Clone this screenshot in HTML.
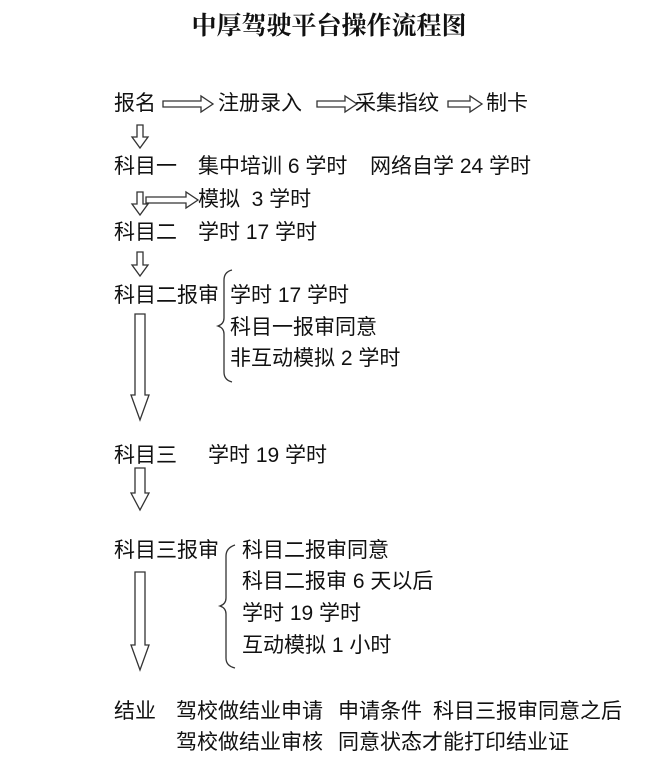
<!DOCTYPE html>
<html><head><meta charset="utf-8"><style>
body{margin:0;width:645px;height:768px;background:#fff;position:relative;overflow:hidden;font-family:"Liberation Sans","Noto Sans CJK SC",sans-serif;color:#111}
.t{position:absolute;font-size:21px;line-height:24px;white-space:nowrap}
h1{position:absolute;left:0;width:658px;top:6px;margin:0;text-align:center;font:bold 25px "Liberation Serif","Noto Serif CJK SC",serif}
svg{position:absolute;left:0;top:0}
</style></head><body>
<h1>中厚驾驶平台操作流程图</h1>
<svg width="645" height="768" fill="#fff" stroke="#333" stroke-width="1.3">
<polygon points="163,101 201,101 201,96 213,104 201,112 201,107 163,107"/>
<polygon points="317,101 345,101 345,96 357,104 345,112 345,107 317,107"/>
<polygon points="448,101 470,101 470,96 482,104 470,112 470,107 448,107"/>
<polygon points="137,125 143,125 143,137 148,137 140,148 132,137 137,137"/>
<polygon points="137,192 143,192 143,204 148,204 140,215 132,204 137,204"/>
<polygon points="146,197 186,197 186,192 198,200 186,208 186,203 146,203"/>
<polygon points="137,252 143,252 143,265 148,265 140,276 132,265 137,265"/>
<polygon points="135,314 145,314 145,395 149,395 140,420 131,395 135,395"/>
<polygon points="135,468 145,468 145,493 149,493 140,510 131,493 135,493"/>
<polygon points="135,572 145,572 145,645 149,645 140,670 131,645 135,645"/>
<path fill="none" d="M232,270 Q224,272 224,280 L224,318 Q224,324 218,326 Q224,328 224,334 L224,372 Q224,380 232,382"/>
<path fill="none" d="M235,545 Q226,548 226,556 L226,598 Q226,604 220,606 Q226,608 226,614 L226,658 Q226,666 235,668"/>
</svg>
<div class="t" style="left:114px;top:92px">报名</div>
<div class="t" style="left:218px;top:92px">注册录入</div>
<div class="t" style="left:355px;top:92px">采集指纹</div>
<div class="t" style="left:486px;top:92px">制卡</div>
<div class="t" style="left:114px;top:155px">科目一</div>
<div class="t" style="left:198px;top:155px">集中培训 6 学时</div>
<div class="t" style="left:370px;top:155px">网络自学 24 学时</div>
<div class="t" style="left:198px;top:188px">模拟&nbsp; 3 学时</div>
<div class="t" style="left:114px;top:221px">科目二</div>
<div class="t" style="left:198px;top:221px">学时 17 学时</div>
<div class="t" style="left:114px;top:284px">科目二报审</div>
<div class="t" style="left:230px;top:284px">学时 17 学时</div>
<div class="t" style="left:230px;top:316px">科目一报审同意</div>
<div class="t" style="left:230px;top:347px">非互动模拟 2 学时</div>
<div class="t" style="left:114px;top:444px">科目三</div>
<div class="t" style="left:208px;top:444px">学时 19 学时</div>
<div class="t" style="left:114px;top:539px">科目三报审</div>
<div class="t" style="left:242px;top:539px">科目二报审同意</div>
<div class="t" style="left:242px;top:570px">科目二报审 6 天以后</div>
<div class="t" style="left:242px;top:602px">学时 19 学时</div>
<div class="t" style="left:242px;top:634px">互动模拟 1 小时</div>
<div class="t" style="left:114px;top:700px">结业</div>
<div class="t" style="left:176px;top:700px">驾校做结业申请</div>
<div class="t" style="left:338px;top:700px">申请条件</div>
<div class="t" style="left:433px;top:700px">科目三报审同意之后</div>
<div class="t" style="left:176px;top:731px">驾校做结业审核</div>
<div class="t" style="left:338px;top:731px">同意状态才能打印结业证</div>
</body></html>
